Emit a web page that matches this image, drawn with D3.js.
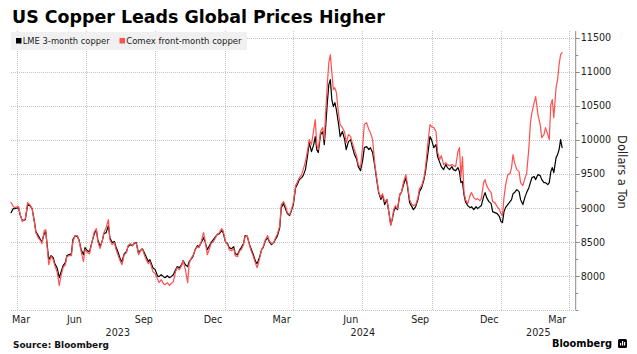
<!DOCTYPE html>
<html><head><meta charset="utf-8">
<script src="https://cdn.jsdelivr.net/npm/d3@7"></script>
<style>html,body{margin:0;padding:0;background:#fff;} svg{display:block;}</style>
</head><body><svg id="chart" width="637" height="354"></svg>
<script>
const dates = ["2023-03-24","2023-03-27","2023-03-29","2023-04-03","2023-04-05","2023-04-08","2023-04-12","2023-04-15","2023-04-18","2023-04-21",
"2023-04-24","2023-04-26","2023-04-29","2023-05-02","2023-05-04","2023-05-07","2023-05-09","2023-05-11","2023-05-13","2023-05-16",
"2023-05-19","2023-05-21","2023-05-24","2023-05-27","2023-05-29","2023-06-01","2023-06-04","2023-06-06","2023-06-09","2023-06-12",
"2023-06-14","2023-06-17","2023-06-20","2023-06-22","2023-06-25","2023-06-28","2023-06-30","2023-07-03","2023-07-06","2023-07-08",
"2023-07-12","2023-07-15","2023-07-17","2023-07-20","2023-07-23","2023-07-25","2023-07-28","2023-07-31","2023-08-02","2023-08-05",
"2023-08-08","2023-08-10","2023-08-13","2023-08-16","2023-08-18","2023-08-21","2023-08-24","2023-08-26","2023-08-29","2023-09-01",
"2023-09-03","2023-09-06","2023-09-09","2023-09-11","2023-09-14","2023-09-16","2023-09-19","2023-09-22","2023-09-24","2023-09-28",
"2023-10-01","2023-10-04","2023-10-06","2023-10-09","2023-10-12","2023-10-14","2023-10-17","2023-10-20","2023-10-22","2023-10-25",
"2023-10-28","2023-10-30","2023-11-02","2023-11-05","2023-11-07","2023-11-10","2023-11-13","2023-11-15","2023-11-18","2023-11-20",
"2023-11-23","2023-11-26","2023-11-28","2023-12-01","2023-12-04","2023-12-06","2023-12-09","2023-12-12","2023-12-14","2023-12-17",
"2023-12-20","2023-12-22","2023-12-25","2023-12-28","2023-12-30","2024-01-02","2024-01-05","2024-01-07","2024-01-10","2024-01-13",
"2024-01-15","2024-01-18","2024-01-21","2024-01-23","2024-01-26","2024-01-28","2024-01-31","2024-02-03","2024-02-05","2024-02-08",
"2024-02-11","2024-02-13","2024-02-16","2024-02-19","2024-02-21","2024-02-24","2024-02-27","2024-02-29","2024-03-03","2024-03-06",
"2024-03-08","2024-03-11","2024-03-14","2024-03-16","2024-03-19","2024-03-22","2024-03-24","2024-03-27","2024-03-29","2024-04-01",
"2024-04-04","2024-04-06","2024-04-09","2024-04-12","2024-04-14","2024-04-17","2024-04-20","2024-04-22","2024-04-25","2024-04-28",
"2024-04-30","2024-05-02","2024-05-04","2024-05-07","2024-05-10","2024-05-12","2024-05-14","2024-05-16","2024-05-18","2024-05-20",
"2024-05-22","2024-05-24","2024-05-26","2024-05-28","2024-05-31","2024-06-02","2024-06-05","2024-06-08","2024-06-10","2024-06-13",
"2024-06-16","2024-06-18","2024-06-21","2024-06-24","2024-06-26","2024-06-29","2024-07-02","2024-07-04","2024-07-07","2024-07-10",
"2024-07-12","2024-07-15","2024-07-18","2024-07-20","2024-07-23","2024-07-26","2024-07-28","2024-07-31","2024-08-03","2024-08-05",
"2024-08-08","2024-08-10","2024-08-12","2024-08-14","2024-08-17","2024-08-20","2024-08-22","2024-08-25","2024-08-28","2024-08-30",
"2024-09-02","2024-09-05","2024-09-07","2024-09-10","2024-09-13","2024-09-15","2024-09-18","2024-09-21","2024-09-23","2024-09-26",
"2024-09-29","2024-10-01","2024-10-04","2024-10-07","2024-10-09","2024-10-12","2024-10-14","2024-10-17","2024-10-20","2024-10-22",
"2024-10-25","2024-10-28","2024-10-30","2024-11-02","2024-11-05","2024-11-07","2024-11-09","2024-11-11","2024-11-13","2024-11-15",
"2024-11-18","2024-11-21","2024-11-23","2024-11-26","2024-11-29","2024-12-01","2024-12-04","2024-12-06","2024-12-09","2024-12-11",
"2024-12-13","2024-12-16","2024-12-19","2024-12-21","2024-12-24","2024-12-27","2024-12-30","2025-01-01","2025-01-03","2025-01-05",
"2025-01-07","2025-01-10","2025-01-13","2025-01-15","2025-01-17","2025-01-19","2025-01-22","2025-01-25","2025-01-27","2025-01-30",
"2025-02-02","2025-02-04","2025-02-07","2025-02-09","2025-02-11","2025-02-14","2025-02-16","2025-02-19","2025-02-22","2025-02-24",
"2025-02-27","2025-03-01","2025-03-04","2025-03-06","2025-03-08","2025-03-10","2025-03-12","2025-03-15","2025-03-17","2025-03-19",
"2025-03-21","2025-03-23"];

const lme = [8930,8990,8990,9004,8902,8813,8828,9049,9034,8990,
8799,8652,8593,8534,8505,8622,8652,8446,8240,8299,
8269,8181,8122,7975,8048,8152,8196,8299,8313,8328,
8534,8593,8578,8534,8387,8313,8416,8372,8357,8446,
8608,8681,8534,8431,8520,8622,8637,8740,8563,8490,
8505,8431,8343,8240,8210,8328,8357,8431,8460,8446,
8475,8490,8328,8372,8401,8357,8284,8210,8240,8122,
8093,8004,7990,8019,7990,7975,8004,7975,7990,8019,
8093,8137,8122,8166,8225,8166,8137,8210,8255,8284,
8387,8446,8431,8490,8563,8505,8387,8446,8490,8534,
8578,8608,8622,8666,8637,8505,8475,8416,8401,8431,
8328,8313,8387,8416,8475,8593,8578,8460,8401,8313,
8210,8181,8269,8387,8416,8520,8563,8505,8460,8490,
8534,8593,8710,9004,9063,8975,8916,8887,8946,9049,
9298,9342,9416,9445,9475,9563,9784,9960,9828,9931,
10048,9857,9813,10078,10122,9931,10225,10548,10813,10886,
10592,10489,10548,10445,10225,10048,10122,10004,9857,9975,
10004,9901,9784,9710,9607,9548,9710,9886,9901,9857,
9886,9813,9607,9445,9225,9122,9196,9049,9122,8975,
8755,8828,8946,9004,8975,9196,9225,9342,9445,9328,
9078,9019,8975,9019,9122,9240,9298,9416,9534,9784,
10048,10004,9886,9931,9754,9666,9607,9563,9637,9593,
9563,9607,9563,9548,9593,9534,9372,9387,9196,9093,
9034,9004,9019,8975,9019,8990,9019,9034,9166,9225,
9151,9093,9063,8946,8931,8916,8872,8799,8784,8946,
9004,9049,9093,9122,9210,9225,9269,9240,9122,9049,
9166,9225,9298,9372,9445,9460,9416,9490,9475,9416,
9372,9372,9342,9372,9534,9593,9519,9739,9784,9857,
10004,9886];

const comex = [9080,9020,9004,9019,8916,8799,8843,9078,9049,8990,
8784,8637,8563,8520,8475,8666,8681,8416,8166,8284,
8240,8152,8063,7858,7990,8122,8166,8284,8299,8299,
8505,8593,8593,8520,8357,8210,8387,8343,8328,8431,
8637,8696,8505,8401,8520,8637,8710,8828,8534,8460,
8490,8387,8299,8210,8166,8313,8343,8446,8475,8446,
8490,8475,8313,8357,8401,8328,8240,8181,8210,8063,
8034,7960,7902,7946,7887,7872,7902,7858,7887,7916,
8063,8122,8093,8152,8225,8093,7902,8181,8269,8299,
8387,8431,8416,8505,8637,8534,8313,8401,8475,8505,
8563,8608,8637,8696,8666,8505,8460,8387,8372,8401,
8299,8284,8372,8387,8460,8578,8593,8446,8372,8284,
8181,8122,8240,8387,8431,8534,8593,8520,8475,8490,
8549,8622,8740,9049,9093,9019,8931,8902,8960,9078,
9328,9372,9445,9490,9563,9681,9857,10004,9931,10151,
10298,9931,9857,10122,10180,10004,10445,10813,11136,11254,
10989,10739,10768,10695,10372,10225,10180,10107,9960,10078,
10048,9960,9857,9754,9637,9593,9931,10225,10254,10151,
10107,10004,9637,9475,9240,9151,9210,9093,9122,8975,
8740,8843,8975,9034,8990,9210,9225,9387,9490,9357,
9122,9049,9034,9049,9151,9284,9328,9445,9593,9931,
10225,10195,10180,10122,9828,9710,9769,9637,9666,9637,
9622,9637,9622,9607,9828,9886,9445,9754,9240,9122,
9063,9181,9225,9151,9122,9137,9107,9137,9372,9416,
9328,9269,9225,9093,9078,9019,8975,8916,8887,9151,
9328,9490,9504,9593,9784,9666,9563,9534,9372,9328,
9445,9504,9886,10254,10401,10548,10636,10372,10225,10033,
10078,10180,10078,10004,10518,10592,10327,10768,10886,11107,
11254,11283];

const seriesNames = ["LME 3-month copper", "Comex front-month copper"];
const seriesColors = ["#000000", "#ff5050"];
const yTicks = [8000, 8500, 9000, 9500, 10000, 10500, 11000, 11500];
const monthTickMonths = ["2023-03","2023-06","2023-09","2023-12","2024-03","2024-06","2024-09","2024-12","2025-03"];
const monthTickLabels = ["Mar","Jun","Sep","Dec","Mar","Jun","Sep","Dec","Mar"];
const gridMonths = ["2023-04","2023-07","2023-10","2024-01","2024-04","2024-07","2024-10","2025-01","2025-04"];
const yearLabels = ["2023","2024","2025"];
const xDomain = ["2023-03-24","2025-04-10"];
const yDomain = [7500, 11600];

(function () {
const svg = d3.select("#chart");
const FONT = "DejaVu Sans, Verdana, sans-serif";
const pL = 11, pR = 575.7, pT = 31, pB = 310;
const parse = d3.timeParse("%Y-%m-%d");
const parseM = d3.timeParse("%Y-%m");
const x = d3.scaleTime().domain(xDomain.map(parse)).range([pL, pR]);
const y = d3.scaleLinear().domain(yDomain).range([pB, pT]);

function fit(sel, target) {
  const w = sel.node().getComputedTextLength();
  const fs = parseFloat(sel.attr("font-size"));
  sel.attr("font-size", (fs * target / w).toFixed(2));
  return sel;
}

// Title
fit(svg.append("text").attr("x", 12).attr("y", 23.3)
  .attr("font-family", FONT).attr("font-weight", "bold").attr("font-size", 17.5)
  .attr("fill", "#000").text("US Copper Leads Global Prices Higher"), 373);

// Grid
const grid = svg.append("g").attr("stroke", "#c4c4c4").attr("stroke-width", 1).attr("stroke-dasharray", "1,1");
[yDomain[0]].concat(yTicks).forEach(v => {
  const yy = Math.round(y(v)) + 0.5;
  grid.append("line").attr("x1", pL).attr("x2", pR).attr("y1", yy).attr("y2", yy);
});
gridMonths.forEach(m => {
  const xx = Math.round(x(parseM(m))) + 0.5;
  grid.append("line").attr("x1", xx).attr("x2", xx).attr("y1", pT).attr("y2", pB);
});

// Legend
const lg = svg.append("g");
lg.append("rect").attr("x", 11).attr("y", 32).attr("width", 236).attr("height", 18).attr("fill", "#f0f0f0");
const legX = [[16, 22.7, 87], [119.5, 126.2, 115.5]];
seriesNames.forEach((n, i) => {
  lg.append("rect").attr("x", legX[i][0]).attr("y", 38).attr("width", 5.5).attr("height", 5.5).attr("fill", seriesColors[i]);
  fit(lg.append("text").attr("x", legX[i][1]).attr("y", 44.3).attr("font-family", FONT).attr("font-size", 8.5)
    .attr("fill", "#222").text(n), legX[i][2]);
});

// Lines
const series = [lme, comex].map(vals => dates.map((d, j) => ({date: parse(d), v: vals[j]})));
const line = d3.line().x(d => x(d.date)).y(d => y(d.v));
series.forEach((s, i) => {
  svg.append("path").datum(s).attr("d", line).attr("fill", "none")
    .attr("stroke", seriesColors[i]).attr("stroke-width", 1.2)
    .attr("stroke-linejoin", "round").attr("stroke-linecap", "round");
});

// Y axis (right)
const ax = svg.append("g").attr("transform", `translate(${pR},0)`);
ax.append("line").attr("x1", 0).attr("x2", 0).attr("y1", pT).attr("y2", pB).attr("stroke", "#8a8a8a");
d3.range(7500, 11600, 250).forEach(v => {
  const major = yTicks.includes(v);
  const yy = Math.round(y(v)) + 0.5;
  ax.append("line").attr("x1", 0).attr("x2", major ? 4 : 2.5).attr("y1", yy).attr("y2", yy).attr("stroke", "#8a8a8a");
});
const yAxis = d3.axisRight(y).tickValues(yTicks).tickSize(0).tickPadding(5).tickFormat(d3.format("d"));
const yg = ax.append("g").call(yAxis);
yg.select(".domain").remove();
yg.selectAll("text").attr("font-family", FONT).attr("font-size", 9.6).attr("fill", "#222");

// Y axis title
svg.append("text").attr("transform", `translate(621.5,172) rotate(90)`)
  .attr("text-anchor", "middle").attr("dominant-baseline", "central")
  .attr("font-family", FONT).attr("font-size", 11.5).attr("fill", "#222").text("Dollars a Ton");

// X month labels
monthTickMonths.forEach((m, i) => {
  const s = parseM(m);
  const e = d3.timeMonth.offset(s, 1);
  let cx = x(new Date((s.getTime() + e.getTime()) / 2));
  const t = svg.append("text").attr("y", 322.5).attr("font-family", FONT).attr("font-size", 9.6)
    .attr("fill", "#222").attr("text-anchor", "middle").text(monthTickLabels[i]);
  const w = t.node().getComputedTextLength();
  if (cx - w / 2 < pL + 1) cx = pL + 1 + w / 2;
  t.attr("x", cx);
});
// Year labels
const [d0, d1] = x.domain();
yearLabels.forEach(yr => {
  const ys = d3.max([d0, parse(yr + "-01-01")]);
  const ye = d3.min([d1, parse((+yr + 1) + "-01-01")]);
  svg.append("text").attr("x", (x(ys) + x(ye)) / 2).attr("y", 336).attr("text-anchor", "middle")
    .attr("font-family", FONT).attr("font-size", 9.6).attr("fill", "#222").text(yr);
});

// Source
fit(svg.append("text").attr("x", 13).attr("y", 347.5).attr("font-family", FONT).attr("font-weight", "bold")
  .attr("font-size", 8.5).attr("fill", "#111").text("Source: Bloomberg"), 96);

// Bloomberg logo
fit(svg.append("text").attr("x", 552).attr("y", 346.5).attr("font-family", FONT).attr("font-weight", "bold")
  .attr("font-size", 10).attr("fill", "#000").text("Bloomberg"), 60);
const ic = svg.append("g").attr("transform", "translate(618,339)");
ic.append("rect").attr("width", 9).attr("height", 9).attr("rx", 1.5).attr("fill", "#000");
[[2, 4, 2.5], [4, 2, 4.5], [6, 3, 3.5]].forEach(b => {
  ic.append("rect").attr("x", b[0]).attr("y", b[1]).attr("width", 1.2).attr("height", b[2]).attr("fill", "#fff");
});
})();
</script></body></html>
